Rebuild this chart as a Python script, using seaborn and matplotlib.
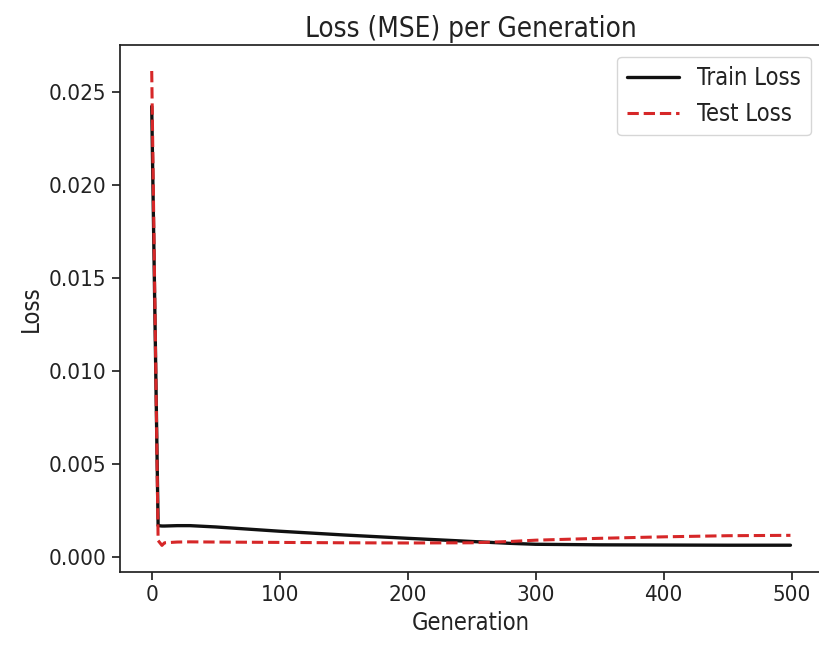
import matplotlib
matplotlib.use("Agg")
import matplotlib.pyplot as plt
import pandas as pd
import seaborn as sns

sns.set_theme(style="ticks")
plt.rcParams["font.family"] = ["DejaVu Sans"]
plt.rcParams["font.stretch"] = "condensed"
plt.rcParams["text.color"] = "#222222"
plt.rcParams["axes.labelcolor"] = "#222222"
plt.rcParams["xtick.color"] = "#222222"
plt.rcParams["ytick.color"] = "#222222"

generation = [0, 5, 8, 10, 20, 30, 50, 100, 150, 200, 250, 280, 300, 350, 400, 450, 499]
train_loss = [0.0242, 0.0017, 0.00168, 0.00168, 0.00170, 0.00170, 0.00163, 0.00140, 0.00120,
              0.00102, 0.00085, 0.00075, 0.00070, 0.00067, 0.00066, 0.00065, 0.00065]
test_loss = [0.0261, 0.0009, 0.00064, 0.00078, 0.00082, 0.00083, 0.00082, 0.00080, 0.00078,
             0.00077, 0.00078, 0.00085, 0.00092, 0.00102, 0.00110, 0.00116, 0.00118]

df = pd.DataFrame({"Generation": generation, "Train": train_loss, "Test": test_loss})

fig = plt.figure(figsize=(8.2, 6.51), dpi=100)
ax = fig.add_axes([0.146, 0.121, 0.857, 0.81])
sns.lineplot(data=df, x="Generation", y="Train", ax=ax, color="#111111", linewidth=2.4,
             label="Train Loss")
sns.lineplot(data=df, x="Generation", y="Test", ax=ax, color="#d62728", linewidth=2.2,
             linestyle="--", label="Test Loss")
ax.set_xlim(-25, 524)
ax.set_ylim(-0.0008, 0.0275)
ax.set_title("Loss (MSE) per Generation", fontsize=20)
ax.set_xlabel("Generation", fontsize=17)
ax.set_ylabel("Loss", fontsize=17)
ax.tick_params(labelsize=16, length=6)
ax.legend(loc="upper right", fontsize=17, handlelength=2.2)
for s in ax.spines.values():
    s.set_visible(True)
    s.set_color("#222222")
fig.savefig("out.png", dpi=100)
